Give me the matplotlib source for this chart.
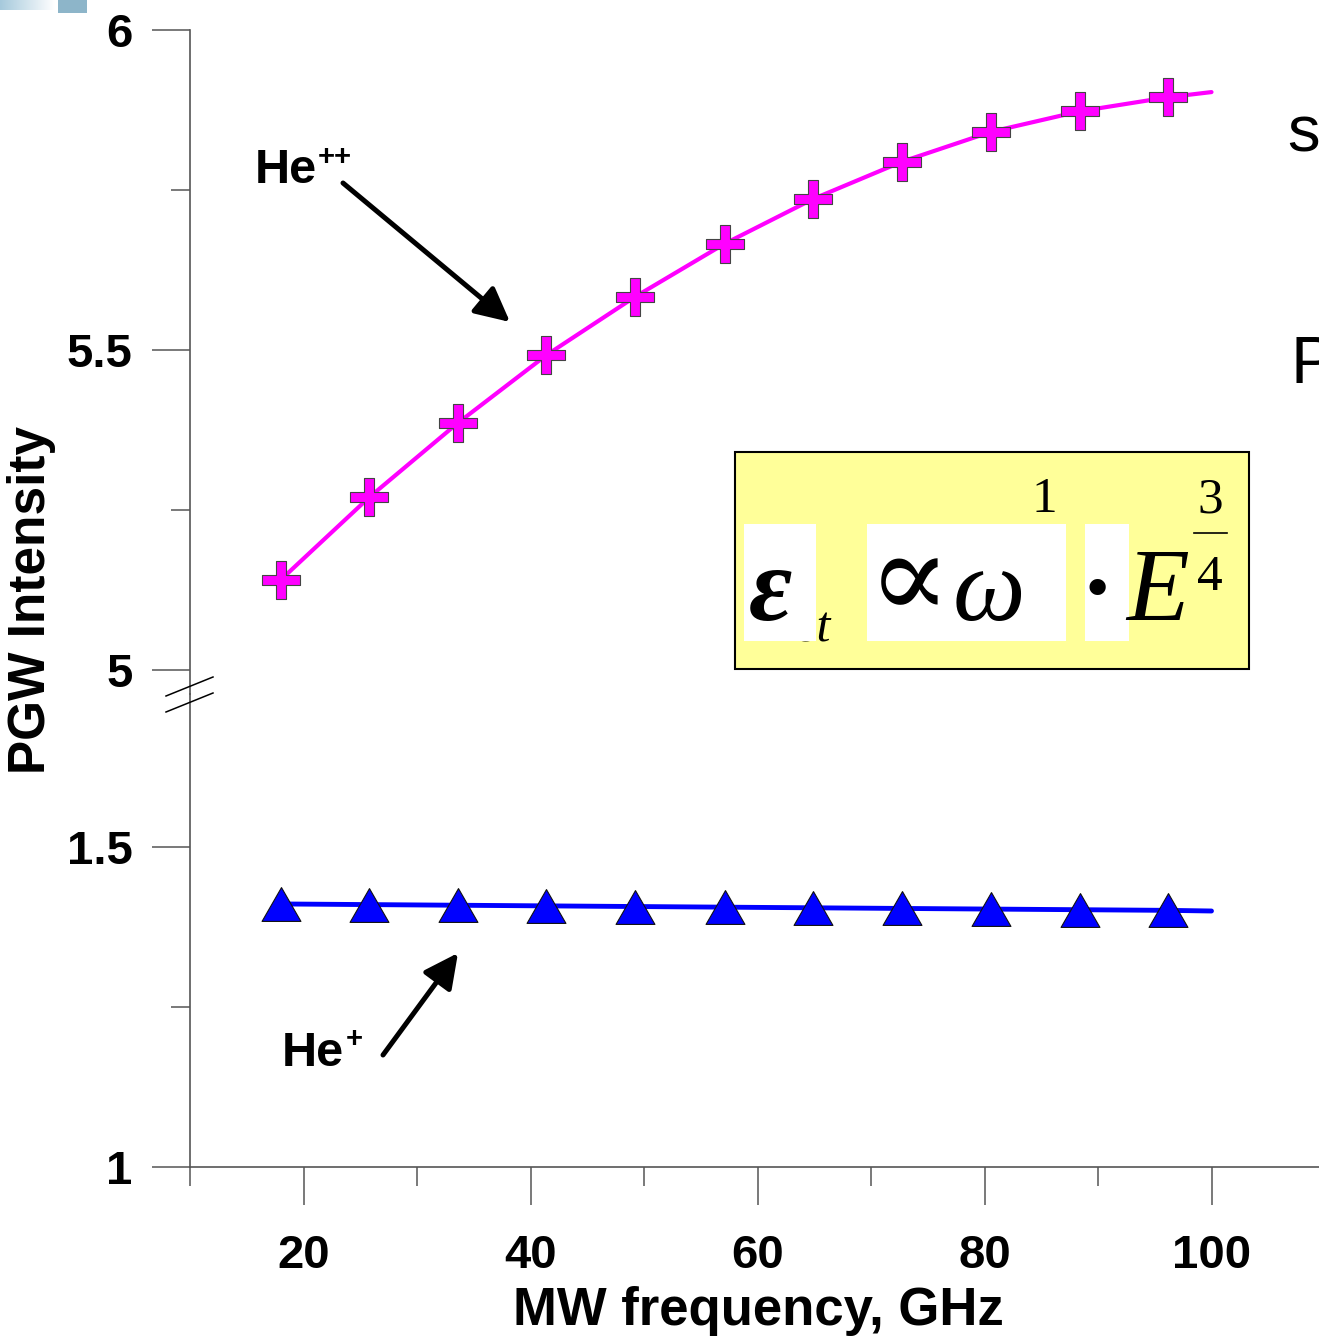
import numpy as np
import matplotlib.pyplot as plt
from matplotlib.patches import Rectangle, FancyArrowPatch
from matplotlib.lines import Line2D
from matplotlib.path import Path

# data
freq = [18.0, 25.8, 33.6, 41.4, 49.2, 57.1, 64.9, 72.7, 80.6, 88.4, 96.2]
he2 = [5.141, 5.270, 5.386, 5.492, 5.583, 5.666, 5.736, 5.794, 5.841, 5.873, 5.895]
he1 = [1.411, 1.410, 1.409, 1.408, 1.407, 1.406, 1.405, 1.404, 1.403, 1.402, 1.401]
fit_x = freq + [100.0]
he2_fit = he2 + [5.903]
he1_fit = he1 + [1.400]

W, H = 1319, 1338
def fx(p): return p / W
def fy(p): return 1 - p / H

SANS = 'Liberation Sans'
SERIF = ['Liberation Serif', 'DejaVu Serif']
GREY = '#555555'

fig = plt.figure(figsize=(W / 100, H / 100), dpi=100)

split = 694
ax_top = fig.add_axes([fx(190), fy(split), fx(1319) - fx(190), fy(30) - fy(split)])
ax_bot = fig.add_axes([fx(190), fy(1167), fx(1319) - fx(190), fy(split) - fy(1167)])

for ax in (ax_top, ax_bot):
    for s in ('top', 'right'):
        ax.spines[s].set_visible(False)
    ax.spines['left'].set_color(GREY)
    ax.spines['left'].set_linewidth(1.2)
    ax.patch.set_visible(False)

ax_top.spines['bottom'].set_visible(False)
ax_bot.spines['bottom'].set_color(GREY)
ax_bot.spines['bottom'].set_linewidth(1.2)

# markers
t = 0.27
plus = Path([(-1, -t), (-t, -t), (-t, -1), (t, -1), (t, -t), (1, -t), (1, t),
             (t, t), (t, 1), (-t, 1), (-t, t), (-1, t), (-1, -t)])
tri = Path([(0, 0.87), (-1, -0.87), (1, -0.87), (0, 0.87)])

ax_top.plot(fit_x, he2_fit, color='#FF00FF', lw=3, zorder=2, solid_capstyle='round')
ax_top.plot(freq, he2, ls='none', marker=plus, ms=28, mfc='#FF00FF', mec='#444444', mew=0.8, zorder=3)
ax_bot.plot(fit_x, he1_fit, color='#0000FF', lw=3.5, zorder=2, solid_capstyle='round')
ax_bot.plot(freq, he1, ls='none', marker=tri, ms=28, mfc='#0000FF', mec='#111111', mew=0.8, zorder=3)

# ticks
ax_top.set_xticks([])
ax_top.set_yticks([5, 5.5, 6])
ax_top.set_yticklabels(['5', '5.5', '6'])
ax_top.set_yticks([5.25, 5.75], minor=True)
ax_bot.set_yticks([1, 1.5])
ax_bot.set_yticklabels(['1', '1.5'])
ax_bot.set_yticks([1.25], minor=True)
ax_bot.set_xticks([20, 40, 60, 80, 100])
ax_bot.set_xticks([10, 30, 50, 70, 90], minor=True)

# limits after the ticks so they are not widened
xmax = 10 + (1319 - 190) / 11.35
for ax in (ax_top, ax_bot):
    ax.set_xlim(10, xmax)
ax_top.set_ylim(6 - (split - 30) / 640, 6)
ax_bot.set_ylim(1, 1 + (1167 - split) / 640)

for ax in (ax_top, ax_bot):
    ax.tick_params(axis='both', which='major', length=27.4, width=1.1, color=GREY, pad=14)
    ax.tick_params(axis='both', which='minor', length=13.7, width=1.1, color=GREY)
    for lab in ax.get_yticklabels() + ax.get_xticklabels():
        lab.set_fontfamily(SANS)
        lab.set_fontweight('bold')
        lab.set_fontsize(34)
ax_bot.tick_params(axis='x', which='major', pad=21)

fig.text(fx(758), fy(1325), 'MW frequency, GHz', family=SANS, weight='bold', size=38,
         ha='center', va='baseline')
fig.text(fx(32), fy(600), 'PGW Intensity', family=SANS, weight='bold', size=37,
         ha='center', va='center', rotation=90)

# axis break marks
for y0, y1 in [(696, 677), (712, 693)]:
    fig.add_artist(Line2D([fx(166), fx(213)], [fy(y0), fy(y1)], color='black', lw=1.1,
                          transform=fig.transFigure))

# labels and arrows
fig.text(fx(255), fy(183), 'He', family=SANS, weight='bold', size=35, va='baseline')
fig.text(fx(318), fy(165), '++', family=SANS, weight='bold', size=21, va='baseline')
fig.text(fx(282), fy(1066), 'He', family=SANS, weight='bold', size=35, va='baseline')
fig.text(fx(346), fy(1047), '+', family=SANS, weight='bold', size=21, va='baseline')

for (x0, y0), (x1, y1) in [((343, 183), (510, 322)), ((383, 1055), (458, 953))]:
    fig.add_artist(FancyArrowPatch((fx(x0), fy(y0)), (fx(x1), fy(y1)), transform=fig.transFigure,
                                   arrowstyle='-|>,head_length=1.1,head_width=0.55', mutation_scale=19,
                                   lw=3.6, color='black', shrinkA=0, shrinkB=0, capstyle='round'))

# formula box
def frect(x0, y0, x1, y1, **kw):
    return Rectangle((fx(x0), fy(y1)), fx(x1) - fx(x0), fy(y0) - fy(y1), transform=fig.transFigure, **kw)

fig.add_artist(frect(735, 452, 1249, 669, facecolor='#FFFF99', edgecolor='black', lw=1.5, zorder=4))
fig.text(fx(797), fy(641), 'st', family=SERIF, style='italic', size=36, va='baseline', zorder=5)
for r in [(744, 524, 816, 641), (867, 524, 1066, 641), (1085, 524, 1129, 641)]:
    fig.add_artist(frect(*r, facecolor='white', edgecolor='none', zorder=6))
fig.text(fx(749), fy(620), '\u03b5', family=SERIF, style='italic', weight='bold', size=76,
         va='baseline', zorder=7)
fig.text(fx(868), fy(618), '\u221d', family=SERIF, size=88, va='baseline', zorder=7)
fig.text(fx(953), fy(620), '\u03c9', family=SERIF, style='italic', size=74, va='baseline', zorder=7)
fig.text(fx(1044), fy(512), '1', family=SERIF, size=37, ha='center', va='baseline', zorder=7)
fig.text(fx(1097), fy(620), '\u00b7', family=SERIF, weight='bold', size=72, ha='center',
         va='baseline', zorder=7)
fig.text(fx(1126), fy(620), 'E', family=SERIF, style='italic', size=74, va='baseline', zorder=7)
fig.text(fx(1210), fy(512), '3', family=SERIF, size=37, ha='center', va='baseline', zorder=7)
fig.text(fx(1210), fy(590), '4', family=SERIF, size=37, ha='center', va='baseline', zorder=7)
fig.add_artist(Line2D([fx(1194), fx(1227)], [fy(533), fy(533)], color='black', lw=1.2,
                      transform=fig.transFigure, zorder=7))

# text cut off at the right edge of the slide
fig.text(fx(1287), fy(152), 's', family=SANS, size=47, va='baseline')
fig.text(fx(1290), fy(383), 'P', family=SANS, size=48, va='baseline')

# slide decoration, top left
deco = fig.add_axes([0, fy(10), fx(55), fy(0) - fy(10)])
deco.imshow(np.linspace(0, 1, 100)[None, :], aspect='auto',
            cmap=plt.matplotlib.colors.LinearSegmentedColormap.from_list('g', ['#A6C9DC', '#FFFFFF']))
deco.axis('off')
fig.add_artist(frect(58, 0, 87, 13, facecolor='#8DB5C9', edgecolor='none'))

fig.savefig('out.png', dpi=100)
